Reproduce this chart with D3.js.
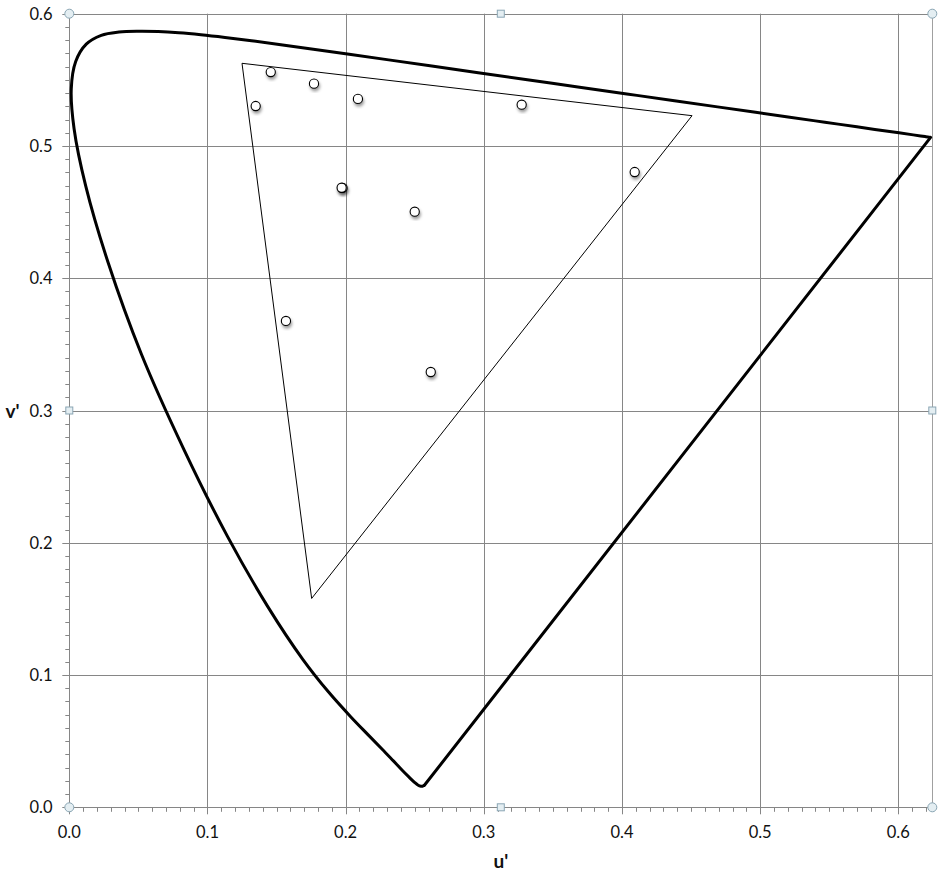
<!DOCTYPE html>
<html><head><meta charset="utf-8">
<script src="https://cdn.jsdelivr.net/npm/d3@7"></script>
<style>
html,body{margin:0;padding:0;background:#fff;}
text{font-family:Lato,"Liberation Sans",sans-serif;}
</style></head>
<body><svg id="chart" width="950" height="878"></svg>
<script>
// Spectral locus (CIE 1976 u'v'), 380..700 nm
const locusNm = [380,390,400,410,420,425,430,435,440,445,450,455,460,465,470,475,480,485,490,495,500,505,510,515,520,525,530,535,540,545,550,555,560,565,570,575,580,585,590,595,600,605,610,615,620,625,630,640,650,660,670,680,700];
const locusU = [0.25687,0.25640,0.25577,0.25450,0.25223,0.24963,0.24609,0.24111,0.23475,0.22664,0.21612,0.20329,0.18766,0.16898,0.14410,0.11467,0.08281,0.05214,0.02815,0.01187,0.00346,0.00142,0.00463,0.01227,0.02312,0.03599,0.05007,0.06433,0.07923,0.09526,0.11270,0.13189,0.15311,0.17660,0.20257,0.23115,0.26234,0.29594,0.33148,0.36808,0.40351,0.43798,0.46913,0.49670,0.52021,0.53993,0.55648,0.58303,0.60047,0.61080,0.61613,0.61995,0.62337];
const locusV = [0.01646,0.01633,0.01594,0.01593,0.01689,0.01910,0.02262,0.02779,0.03489,0.04365,0.05495,0.06889,0.08711,0.11190,0.15099,0.20444,0.27083,0.34271,0.41167,0.46983,0.51307,0.54316,0.56384,0.57697,0.58367,0.58614,0.58675,0.58652,0.58562,0.58411,0.58207,0.57955,0.57658,0.57319,0.56936,0.56510,0.56044,0.55542,0.55012,0.54463,0.53933,0.53419,0.52956,0.52544,0.52191,0.51898,0.51651,0.51253,0.50993,0.50838,0.50758,0.50701,0.50650];
// Gamut triangle (G, R, B)
const gamutU = [0.1250,0.4507,0.1754];
const gamutV = [0.5625,0.5229,0.1579];
// Sample points
const sampleU = [0.1458,0.1771,0.1349,0.2089,0.1978,0.1971,0.2500,0.3274,0.4092,0.1568,0.2616];
const sampleV = [0.5559,0.5471,0.5302,0.5356,0.4683,0.4684,0.4503,0.5312,0.4803,0.3677,0.3291];
// Axes
const uDomain = [0, 0.625];
const vDomain = [0, 0.6];
const uTicks = [0,0.1,0.2,0.3,0.4,0.5,0.6];
const vTicks = [0,0.1,0.2,0.3,0.4,0.5,0.6];
const uLabel = "u'";
const vLabel = "v'";

const L = 69.3, R = 932.3, T = 13.7, B = 807.3;
const x = d3.scaleLinear().domain(uDomain).range([L, L + 0.625 * 1381.7]);
const y = d3.scaleLinear().domain(vDomain).range([B, T]);

const svg = d3.select("#chart");
const defs = svg.append("defs");
const f = defs.append("filter").attr("id","sh").attr("x","-50%").attr("y","-50%").attr("width","200%").attr("height","200%");
f.append("feDropShadow").attr("dx",1).attr("dy",2.5).attr("stdDeviation",1.6).attr("flood-color","#000").attr("flood-opacity",0.4);

const gridColor = "#868686";
const g = svg.append("g");

// gridlines
g.selectAll(".gx").data(uTicks).join("line")
  .attr("x1", d => Math.round(x(d)) + 0.5).attr("x2", d => Math.round(x(d)) + 0.5)
  .attr("y1", T).attr("y2", B + 7).attr("stroke", gridColor).attr("stroke-width", 1);
g.selectAll(".gy").data(vTicks).join("line")
  .attr("y1", d => Math.round(y(d)) + 0.5).attr("y2", d => Math.round(y(d)) + 0.5)
  .attr("x1", L - 7).attr("x2", R).attr("stroke", gridColor).attr("stroke-width", 1);
// right border
g.append("line").attr("x1", Math.round(R)+0.5).attr("x2", Math.round(R)+0.5).attr("y1", T).attr("y2", B)
  .attr("stroke", "#a0a0a0").attr("stroke-width", 1);

// minor ticks
const uMinor = d3.range(0, 0.6251, 0.01);
const vMinor = d3.range(0, 0.6001, 0.01);
g.selectAll(".mx").data(uMinor).join("line")
  .attr("x1", d => Math.round(x(d)) + 0.5).attr("x2", d => Math.round(x(d)) + 0.5)
  .attr("y1", Math.round(B)+0.5).attr("y2", B + 4.5).attr("stroke", gridColor);
g.selectAll(".my").data(vMinor).join("line")
  .attr("y1", d => Math.round(y(d)) + 0.5).attr("y2", d => Math.round(y(d)) + 0.5)
  .attr("x1", L - 4).attr("x2", Math.round(L)+0.5).attr("stroke", gridColor);
// axis lines
g.append("line").attr("x1", Math.round(L)+0.5).attr("x2", Math.round(L)+0.5).attr("y1", T).attr("y2", B).attr("stroke", gridColor);
g.append("line").attr("x1", L).attr("x2", R).attr("y1", Math.round(B)+0.5).attr("y2", Math.round(B)+0.5).attr("stroke", gridColor);

// tick labels
const fmt = d3.format(".1f");
g.selectAll(".tx").data(uTicks).join("text")
  .attr("x", d => x(d)).attr("y", 838).attr("text-anchor", "middle")
  .attr("font-size", 16.5).attr("fill", "#111").text(fmt);
g.selectAll(".ty").data(vTicks).join("text")
  .attr("x", 52.5).attr("y", d => y(d) + 6).attr("text-anchor", "end")
  .attr("font-size", 16.5).attr("fill", "#111").text(fmt);
// axis titles
g.append("text").attr("x", (L + R) / 2).attr("y", 868).attr("text-anchor", "middle")
  .attr("font-size", 19).attr("font-weight", "bold").attr("fill", "#111").text(uLabel);
g.append("text").attr("x", 12.5).attr("y", y(0.3) + 7).attr("text-anchor", "middle")
  .attr("font-size", 19).attr("font-weight", "bold").attr("fill", "#111").text(vLabel);

// spectral locus (closed by purple line)
const locus = locusU.map((u, i) => [u, locusV[i]]);
const line = d3.line().x(d => x(d[0])).y(d => y(d[1])).curve(d3.curveCatmullRom.alpha(0.5));
g.append("path").attr("d", line(locus)).attr("fill", "none").attr("stroke", "#000")
  .attr("stroke-width", 3).attr("stroke-linejoin", "round");
g.append("path").attr("d", d3.line().x(d => x(d[0])).y(d => y(d[1]))([locus[locus.length-1], locus[0]]))
  .attr("fill", "none").attr("stroke", "#000").attr("stroke-width", 3).attr("stroke-linejoin", "round").attr("stroke-linecap","round");

// gamut triangle
const gamut = gamutU.map((u, i) => [u, gamutV[i]]);
g.append("path").attr("d", d3.line().x(d => x(d[0])).y(d => y(d[1]))(gamut) + "Z")
  .attr("fill", "none").attr("stroke", "#000").attr("stroke-width", 1);

// sample points
g.selectAll(".pt").data(sampleU.map((u, i) => [u, sampleV[i]])).join("circle")
  .attr("cx", d => x(d[0])).attr("cy", d => y(d[1])).attr("r", 4.6)
  .attr("fill", "#fff").attr("stroke", "#000").attr("stroke-width", 1.1)
  .attr("filter", "url(#sh)");

// selection handles on plot area
const xm = (L + R) / 2, ym = (T + B) / 2;
const corners = [[L, T], [R, T], [L, B], [R, B]];
const mids = [[xm, T], [xm, B], [L, ym], [R, ym]];
g.selectAll(".hc").data(corners).join("circle")
  .attr("cx", d => d[0]).attr("cy", d => d[1]).attr("r", 4.5)
  .attr("fill", "#e4eef2").attr("stroke", "#8aa6b4").attr("stroke-width", 1);
g.selectAll(".hs").data(mids).join("rect")
  .attr("x", d => d[0] - 3.5).attr("y", d => d[1] - 3.5).attr("width", 7).attr("height", 7)
  .attr("fill", "#e4eef2").attr("stroke", "#8aa6b4").attr("stroke-width", 1);
</script></body></html>
